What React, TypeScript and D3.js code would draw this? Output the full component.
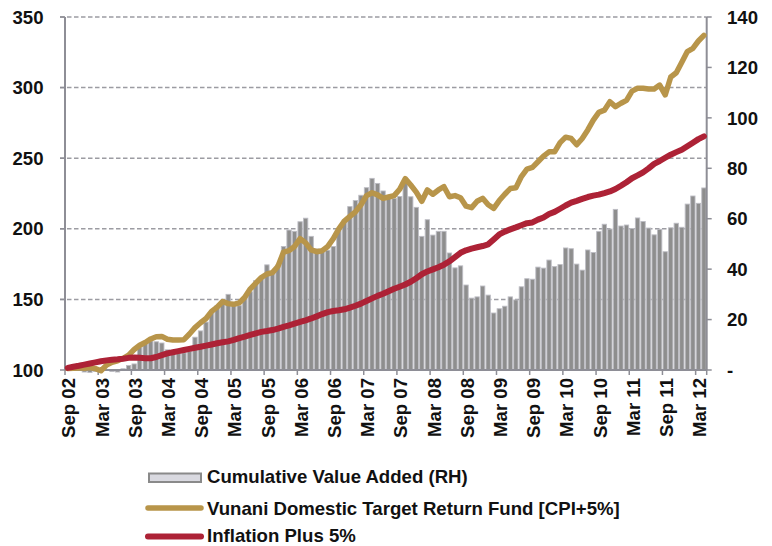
import React from "react";
import * as d3 from "d3";

const categories: string[] = d3
  .timeMonth.range(new Date(2002, 8, 1), new Date(2012, 4, 1))
  .map(d3.timeFormat("%b %y"));

const tickLabels = [
  "Sep 02", "Mar 03", "Sep 03", "Mar 04", "Sep 04", "Mar 05", "Sep 05", "Mar 06",
  "Sep 06", "Mar 07", "Sep 07", "Mar 08", "Sep 08", "Mar 09", "Sep 09", "Mar 10",
  "Sep 10", "Mar 11", "Sep 11", "Mar 12",
];

const leftTicks = [100, 150, 200, 250, 300, 350];
const rightTicks = [0, 20, 40, 60, 80, 100, 120, 140];

// Cumulative Value Added (RH)
const valueAdded = [
  0.3, 0.5, 0.2, -0.8, -1, -0.6, -0.3, 0.2, -0.6, -0.8, 0.5, 1.8,
  2.4, 9, 11.2, 11.5, 11.2, 10.7, 8, 7, 6.6, 6.8, 7.5, 13,
  15.5, 19, 23.5, 25.5, 26.5, 30, 26, 25.5, 29, 31, 35.5, 36.5,
  41.7, 38.5, 41.7, 49, 55.5, 55, 58.8, 60.2, 53, 48, 47, 47.5,
  49, 56, 59.5, 64.8, 67.2, 69.3, 72.3, 76, 74, 71, 68.5, 68,
  68.8, 75, 68.7, 64.5, 53, 59.6, 53.5, 55, 55, 46.4, 40.5, 41.3,
  33.7, 28.5, 29, 33.3, 29.7, 22.6, 24.3, 25.3, 29, 27.8, 33, 36.2,
  36, 40.8, 40.4, 43.6, 41, 41.8, 48.4, 48.1, 42, 39.6, 47.6, 46.6,
  54.9, 57.8, 55.9, 63.7, 57.1, 57.5, 56.1, 60.3, 58.9, 56.3, 53.6, 55.8,
  46.9, 56.4, 58.2, 56.6, 65.8, 69, 66.1, 72.2,
];

// Vunani Domestic Target Return Fund [CPI+5%]
const fund = [
  101, 101.3, 101.5, 101.2, 101.8, 101, 99.5, 103.5, 105.5, 106.5, 108.3, 110.5,
  114.5, 117.5, 119.5, 122, 123.6, 123.8, 121.8, 121.2, 121.3, 121.5, 125.5, 130,
  133.5, 136.5, 141.5, 144.5, 148.5, 147, 146.5, 147.5, 151.5, 157.5, 161.5, 165.5,
  168, 169, 173.5, 183.5, 184.5, 187.5, 193, 190, 185, 183.8, 184.5, 187.5,
  193, 200, 205.5, 208.8, 212, 217, 223.5, 225.5, 224, 221.5, 222.5, 223.5,
  228, 235.5, 231, 226, 219.5, 227.5, 224.5, 227.5, 229.8, 222.7, 223.5, 222,
  216, 215, 219.5, 221.6, 217, 214.5, 220, 224.5, 228.5, 229, 237, 242.3,
  243.5, 247.5, 251.5, 254.5, 254.5, 261, 264.9, 264, 259.5, 264, 270, 277,
  282.5, 284, 290, 286.5, 288.9, 291, 297.5, 299.5, 299.5, 299, 299, 301.8,
  294.8, 307.5, 310.5, 318, 325.5, 327.8, 333, 337,
];

// Inflation Plus 5%
const inflation = [
  101.5, 102.3, 103, 103.8, 104.6, 105.4, 106.2, 106.8, 107.3, 107.6, 108, 108.6,
  108.9, 108.7, 108.4, 108.3, 109.2, 110.5, 111.8, 112.6, 113.4, 114.2, 115, 115.8,
  116.5, 117.3, 118.1, 118.9, 119.6, 120.3, 121.3, 122.5, 123.6, 124.8, 126, 127,
  127.6, 128.3, 129.3, 130.5, 131.6, 132.8, 134, 135.2, 136.5, 138, 139.6, 141,
  141.8, 142.3, 143, 144.2, 145.5, 147, 148.8, 150.7, 152.5, 154, 155.8, 157.5,
  159, 160.6, 162.5, 165, 167.8, 169.8, 171.3, 172.8, 174.6, 177, 180, 183,
  184.8, 186, 186.9, 187.8, 189, 192.5, 196, 198, 199.6, 201, 202.5, 204,
  204.5, 206.5, 208, 210.5, 212, 214.2, 216.5, 218.5, 219.8, 221.2, 222.5, 223.5,
  224.2, 225.3, 226.5, 228.2, 230.5, 233, 235.8, 237.8, 240, 242.8, 246, 248,
  250.3, 252.5, 254.3, 256, 258.5, 261, 263.5, 265.5,
];

const seriesNames = [
  "Cumulative Value Added (RH)",
  "Vunani Domestic Target Return Fund [CPI+5%]",
  "Inflation Plus 5%",
];

const GOLD = "#B8954A";
const RED = "#AD2236";
const AXIS = "#8E8E96";
const GRID = "#9C9CA2";
const FONT = "'Liberation Sans', Arial, sans-serif";
const FS = 18.6;

export default function App() {
  const W = 772;
  const H = 546;
  const xL = 65;
  const xR = 706.7;
  const yTop = 17;
  const yBot = 370;

  const x = d3
    .scaleBand<string>()
    .domain(categories)
    .range([xL, xR])
    .paddingInner(0)
    .paddingOuter(0);
  const bw = x.bandwidth();
  const yL = d3.scaleLinear().domain([100, 350]).range([yBot, yTop]);
  const yR = d3.scaleLinear().domain([0, 140]).range([yBot, yTop]);
  const cx = (i: number) => (x(categories[i]) as number) + bw / 2;

  const line = d3
    .line<number>()
    .x((_, i) => cx(i))
    .y((d) => yL(d))
    .curve(d3.curveLinear);

  const tickIdx = tickLabels.map((t) => categories.indexOf(t));

  return (
    <svg
      width={W}
      height={H}
      style={{ position: "absolute", left: 0, top: 0, background: "#fff" }}
      fontFamily={FONT}
      fontWeight="bold"
    >
      {/* gridlines */}
      {leftTicks
        .filter((t) => t !== 100)
        .map((t) => (
          <line
            key={"g" + t}
            x1={xL - 5}
            x2={xR}
            y1={yL(t)}
            y2={yL(t)}
            stroke={GRID}
            strokeWidth={1.5}
            strokeDasharray="4.5,2.5"
          />
        ))}

      {/* bars */}
      {valueAdded.map((v, i) => {
        const y0 = yR(0);
        const y1 = yR(v);
        return (
          <rect
            key={"b" + i}
            x={(x(categories[i]) as number) + 0.6}
            width={bw - 1.2}
            y={Math.min(y0, y1)}
            height={Math.max(0.5, Math.abs(y1 - y0))}
            fill="#8E8E8E"
            stroke="#BDBDC4"
            strokeWidth={0.9}
          />
        );
      })}

      {/* axes */}
      <line x1={xL} x2={xL} y1={yTop} y2={yBot} stroke={AXIS} strokeWidth={2} />
      <line x1={xR} x2={xR} y1={yTop} y2={yBot} stroke={AXIS} strokeWidth={2} />
      <line x1={xL} x2={xR} y1={yBot} y2={yBot} stroke={AXIS} strokeWidth={2} />
      {leftTicks.map((t) => (
        <g key={"lt" + t}>
          <line x1={xL - 5} x2={xL} y1={yL(t)} y2={yL(t)} stroke={AXIS} strokeWidth={1.5} />
          <text x={43.5} y={yL(t)} dy="0.36em" textAnchor="end" fontSize={FS} fill="#111">
            {t}
          </text>
        </g>
      ))}
      {rightTicks.map((t) => (
        <g key={"rt" + t}>
          <line x1={xR} x2={xR + 5} y1={yR(t)} y2={yR(t)} stroke={AXIS} strokeWidth={1.5} />
          <text x={727} y={yR(t)} dy="0.36em" textAnchor="start" fontSize={FS} fill="#111">
            {t === 0 ? "-" : t}
          </text>
        </g>
      ))}
      {tickIdx.map((i) => (
        <line
          key={"xt" + i}
          x1={x(categories[i]) as number}
          x2={x(categories[i]) as number}
          y1={yBot}
          y2={yBot + 5}
          stroke={AXIS}
          strokeWidth={1.5}
        />
      ))}
      <line x1={xR} x2={xR} y1={yBot} y2={yBot + 5} stroke={AXIS} strokeWidth={1.5} />
      {tickLabels.map((lbl, k) => {
        const tx = cx(tickIdx[k]) + 1;
        return (
          <text
            key={"xl" + lbl}
            transform={`translate(${tx},378) rotate(-90)`}
            textAnchor="end"
            dy="0.36em"
            fontSize={FS}
            fill="#111"
          >
            {lbl}
          </text>
        );
      })}

      {/* lines */}
      <path d={line(fund) || ""} fill="none" stroke={GOLD} strokeWidth={5.5} strokeLinejoin="round" strokeLinecap="round" />
      <path d={line(inflation) || ""} fill="none" stroke={RED} strokeWidth={6} strokeLinejoin="round" strokeLinecap="round" />

      {/* legend */}
      <rect x={149} y={473.5} width={52} height={8.5} fill="#D9D9E0" stroke="#8A8A8A" strokeWidth={2} />
      <text x={207} y={483} fontSize={FS} fill="#111">{seriesNames[0]}</text>
      <line x1={148} x2={201} y1={508} y2={508} stroke={GOLD} strokeWidth={5.5} strokeLinecap="round" />
      <text x={207} y={514.8} fontSize={FS} fill="#111">{seriesNames[1]}</text>
      <line x1={148} x2={201} y1={536.5} y2={536.5} stroke={RED} strokeWidth={6} strokeLinecap="round" />
      <text x={207} y={542} fontSize={FS} fill="#111">{seriesNames[2]}</text>
    </svg>
  );
}
